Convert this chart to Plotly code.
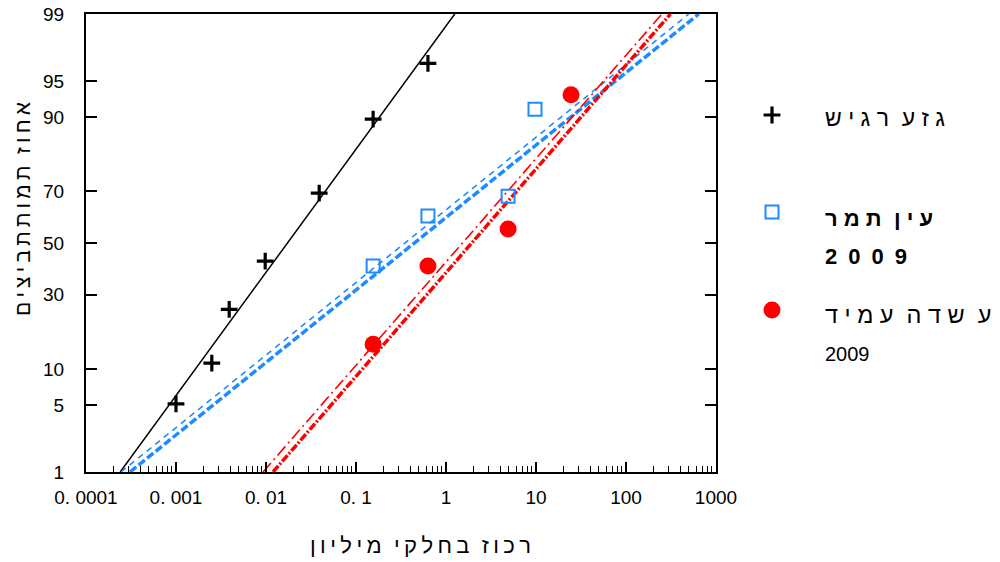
import plotly.graph_objects as go
from statistics import NormalDist

# ---------------- data ----------------
# sensitive strain (black crosses)
sens_conc = [0.001, 0.0025, 0.0039, 0.0098, 0.039, 0.155, 0.63]
sens_pct = [5.1, 11.1, 25.0, 42.7, 69.4, 89.6, 96.6]

# Ein Tamar 2009 (blue squares)
ein_conc = [0.155, 0.63, 4.9, 9.75]
ein_pct = [40.8, 60.8, 68.3, 91.3]

# field resistant strain 2009 (red circles)
field_conc = [0.155, 0.63, 4.9, 24.5]
field_pct = [15.2, 40.8, 55.7, 93.4]

# fitted probit lines: concentration at the 1% and 99% mortality ends
line_pct = [1, 99]
sens_fit_conc = [0.00024, 1.25]
ein_fit_thin_conc = [0.000245, 499]
ein_fit_thick_conc = [0.000308, 644]
field_fit_thin_conc = [0.00927, 251]
field_fit_thick_conc = [0.01197, 312]

# axis ticks
y_tick_pct = [1, 5, 10, 30, 50, 70, 90, 95, 99]
y_tick_text = ["1", "5", "10", "30", "50", "70", "90", "95", "99"]
x_tick_vals = [0.0001, 0.001, 0.01, 0.1, 1, 10, 100, 1000]
x_tick_text = ["0. 0001", "0. 001", "0. 01", "0. 1", "1", "10", "100", "1000"]

# texts
y_title = "א\u2009ח\u2009ו\u2009ז  ת\u2009מ\u2009ו\u2009ת\u2009ת\u2009ב\u2009י\u2009צ\u2009י\u2009ם"
x_title = "ר\u2009כ\u2009ו\u2009ז  ב\u2009ח\u2009ל\u2009ק\u2009י  מ\u2009י\u2009ל\u2009י\u2009ו\u2009ן"
leg1 = "ג ז ע  ר ג י ש"
leg2a = "ע י ן  ת מ ר"
leg2b = "2\u20020\u20020\u20029"
leg3a = "ג ז ע  ש ד ה  ע מ י ד"
leg3b = "2009"

# ---------------- helpers ----------------
nd = NormalDist()


def probit(pcts):
    return [nd.inv_cdf(p / 100.0) for p in pcts]


FONT = "Liberation Sans, Arial, DejaVu Sans, sans-serif"
BLUE = "#1E8BFF"
RED = "#FF0000"

# the page body has an 8px margin, so the figure is laid out 8px smaller
OFF = 8
W, H = 1000 - OFF, 562 - OFF
ML, MT, MB = 86 - OFF, 14 - OFF, 90
PLOT_W = 630
PAPER_W = W - ML
MAIN_DOM = PLOT_W / PAPER_W

fig = go.Figure()

# fitted lines
fig.add_trace(go.Scatter(x=sens_fit_conc, y=probit(line_pct), mode="lines",
                         line=dict(color="black", width=1.5)))
fig.add_trace(go.Scatter(x=ein_fit_thin_conc, y=probit(line_pct), mode="lines",
                         line=dict(color=BLUE, width=1.6, dash="6px,5px")))
fig.add_trace(go.Scatter(x=ein_fit_thick_conc, y=probit(line_pct), mode="lines",
                         line=dict(color=BLUE, width=3.5, dash="8px,3px")))
fig.add_trace(go.Scatter(x=field_fit_thin_conc, y=probit(line_pct), mode="lines",
                         line=dict(color=RED, width=1.6, dash="12px,4px,2px,4px")))
fig.add_trace(go.Scatter(x=field_fit_thick_conc, y=probit(line_pct), mode="lines",
                         line=dict(color=RED, width=3.5, dash="8px,2px,2px,2px")))

cross_marker = dict(symbol="cross-thin-open", size=12, color="black",
                    line=dict(color="black", width=3.2))
square_marker = dict(symbol="square-open", size=13, color=BLUE,
                     line=dict(color=BLUE, width=2))
circle_marker = dict(symbol="circle", size=17, color=RED, line=dict(width=0))

# data points
fig.add_trace(go.Scatter(x=sens_conc, y=probit(sens_pct), mode="markers",
                         marker=cross_marker))
fig.add_trace(go.Scatter(x=ein_conc, y=probit(ein_pct), mode="markers",
                         marker=square_marker))
fig.add_trace(go.Scatter(x=field_conc, y=probit(field_pct), mode="markers",
                         marker=circle_marker))

# legend symbols on a helper axis whose units are screen pixels
LEG_X0 = ML + PLOT_W + 10
fig.add_trace(go.Scatter(x=[772], y=[115], xaxis="x2", yaxis="y2", mode="markers",
                         marker=cross_marker))
fig.add_trace(go.Scatter(x=[772], y=[212], xaxis="x2", yaxis="y2", mode="markers",
                         marker=square_marker))
fig.add_trace(go.Scatter(x=[772], y=[310], xaxis="x2", yaxis="y2", mode="markers",
                         marker=circle_marker))

minor_vals = [k * 10.0 ** e for e in range(-4, 3) for k in range(2, 10)]

fig.update_layout(
    width=W, height=H,
    margin=dict(l=ML, r=0, t=MT, b=MB, autoexpand=False),
    paper_bgcolor="white", plot_bgcolor="white",
    showlegend=False,
    font=dict(family=FONT, color="black"),
    xaxis=dict(
        domain=[0, MAIN_DOM], anchor="y",
        type="log", range=[-4, 3], automargin=False,
        tickmode="array", tickvals=x_tick_vals, ticktext=x_tick_text,
        ticks="inside", ticklen=10, tickwidth=1.5, tickcolor="black",
        minor=dict(ticks="inside", ticklen=6, tickwidth=1.2, tickcolor="black",
                   tickvals=minor_vals, showgrid=False),
        showline=True, linecolor="black", linewidth=2, mirror=True,
        showgrid=False, zeroline=False,
        tickfont=dict(size=19, family=FONT, color="black"),
        ticklabelstandoff=7, ticklabeloverflow="allow",
    ),
    yaxis=dict(
        domain=[0, 1], anchor="x",
        range=[probit([1])[0], probit([99])[0]], automargin=False,
        tickmode="array", tickvals=probit(y_tick_pct), ticktext=y_tick_text,
        ticks="inside", ticklen=11, tickwidth=1.5, tickcolor="black",
        showline=True, linecolor="black", linewidth=2, mirror="ticks",
        showgrid=False, zeroline=False,
        tickfont=dict(size=19, family=FONT, color="black"),
        ticklabelstandoff=16, ticklabeloverflow="allow",
    ),
    xaxis2=dict(domain=[(LEG_X0 - ML) / PAPER_W, 1], anchor="y2",
                range=[LEG_X0 + OFF, W + OFF], visible=False, automargin=False),
    yaxis2=dict(domain=[0, 1], anchor="x2",
                range=[H - MB + OFF, MT + OFF], visible=False, automargin=False),
)

ann = []
ann.append(dict(text=y_title, x=(22 - 86) / PAPER_W, y=(472 - 209) / 458,
                xref="paper", yref="paper",
                textangle=-90, showarrow=False, xanchor="center", yanchor="middle",
                font=dict(size=21, family=FONT, color="black")))
ann.append(dict(text=x_title, x=(420 - 86) / PAPER_W, y=(472 - 545) / 458,
                xref="paper", yref="paper",
                showarrow=False, xanchor="center", yanchor="middle",
                font=dict(size=22, family=FONT, color="black")))
legend_lines = [
    (leg1, 118, 23),
    ("<b>" + leg2a + "</b>", 218, 22),
    ("<b>" + leg2b + "</b>", 256, 22),
    (leg3a, 315, 23.5),
    (leg3b, 354, 20),
]
for txt, yy, sz in legend_lines:
    ann.append(dict(text=txt, x=823, y=yy, xref="x2", yref="y2",
                    showarrow=False, xanchor="left", yanchor="middle",
                    font=dict(size=sz, family=FONT, color="black")))
fig.update_layout(annotations=ann)

fig.write_html("out.html")
